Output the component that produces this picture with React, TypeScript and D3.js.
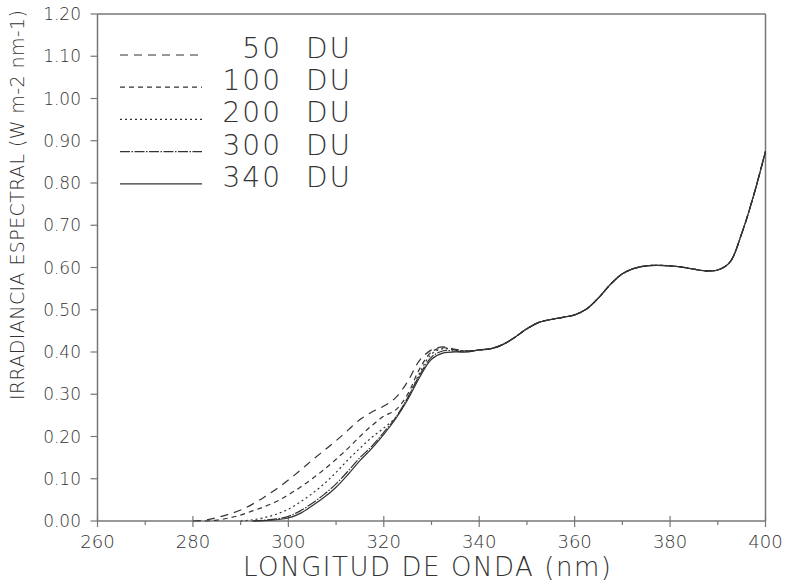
import React from "react";
import * as d3 from "d3";

// wavelength grid (nm) for the part where the ozone curves differ
const lowNm = [280, 282.5, 285, 287.5, 290, 292.5, 295, 297.5, 300, 302.5, 305, 307.5, 310, 312.5, 315, 317.5, 320, 322.5, 325, 327.5, 330, 332.5, 335, 337.5];
const du50 = [0, 0.002, 0.008, 0.016, 0.026, 0.04, 0.057, 0.076, 0.097, 0.12, 0.144, 0.167, 0.19, 0.215, 0.24, 0.258, 0.272, 0.292, 0.33, 0.38, 0.405, 0.412, 0.406, 0.403];
const du100 = [0, 0, 0.002, 0.007, 0.014, 0.024, 0.034, 0.046, 0.062, 0.08, 0.1, 0.122, 0.146, 0.172, 0.2, 0.226, 0.248, 0.263, 0.3, 0.36, 0.4, 0.41, 0.405, 0.402];
const du200 = [0, 0, 0, 0, 0, 0.003, 0.008, 0.016, 0.028, 0.045, 0.065, 0.088, 0.115, 0.145, 0.172, 0.198, 0.22, 0.245, 0.29, 0.35, 0.395, 0.408, 0.404, 0.402];
const du300 = [0, 0, 0, 0, 0, 0, 0.002, 0.005, 0.011, 0.024, 0.042, 0.063, 0.088, 0.118, 0.15, 0.177, 0.21, 0.245, 0.292, 0.345, 0.388, 0.403, 0.402, 0.401];
const du340 = [0, 0, 0, 0, 0, 0, 0.001, 0.003, 0.007, 0.018, 0.036, 0.056, 0.08, 0.11, 0.143, 0.172, 0.205, 0.242, 0.287, 0.34, 0.383, 0.398, 0.4, 0.4];

// shared part of the spectrum (all curves coincide)
const highNm = [340, 342.5, 345, 347.5, 350, 352.5, 355, 357.5, 360, 362.5, 365, 367.5, 370, 372.5, 375, 377.5, 380, 382.5, 385, 387.5, 390, 392.5, 395, 397.5, 400];
const tail = [0.405, 0.408, 0.418, 0.435, 0.455, 0.47, 0.477, 0.482, 0.488, 0.502, 0.528, 0.56, 0.585, 0.598, 0.604, 0.605, 0.604, 0.601, 0.596, 0.592, 0.594, 0.612, 0.68, 0.77, 0.875];

const seriesNames = ["50", "100", "200", "300", "340"];
const seriesLow = [du50, du100, du200, du300, du340];
const dashes = ["8,6", "5,4", "2,3", "10,1.5,1.5,1.5", null];

const xTicks = [260, 280, 300, 320, 340, 360, 380, 400];
const xMinor = [270, 290, 310, 330, 350, 370, 390];
const yTicks = [0, 0.1, 0.2, 0.3, 0.4, 0.5, 0.6, 0.7, 0.8, 0.9, 1.0, 1.1, 1.2];

const W = 789;
const H = 584;
const font = "'DejaVu Sans', Roboto, sans-serif";
const ink = "#333";
const frame = "#777";

export default function App() {
  const x = d3.scaleLinear().domain([260, 400]).range([97.5, 765.5]);
  const y = d3.scaleLinear().domain([0, 1.2]).range([521, 14]);
  const line = d3
    .line<[number, number]>()
    .x((d) => x(d[0]))
    .y((d) => y(d[1]))
    .curve(d3.curveCatmullRom.alpha(0.5));

  const paths = seriesLow.map((vals) => {
    let pts: [number, number][] = lowNm.map((n, i) => [n, vals[i]]);
    // drop leading zeros except the last one
    let first = 0;
    while (first < vals.length - 1 && vals[first + 1] === 0) first++;
    pts = pts.slice(first);
    return pts.concat(highNm.map((n, i) => [n, tail[i]] as [number, number]));
  });

  const fmt = d3.format(".2f");
  const x0 = x(260);
  const x1 = x(400);
  const yb = y(0);
  const yt = y(1.2);

  return (
    <svg width={W} height={H} style={{ position: "absolute", left: 0, top: 0, background: "#fff" }}>
      {/* frame */}
      <g stroke={frame} strokeWidth={1.5} fill="none">
        <line x1={x0} x2={x1} y1={yb} y2={yb} />
        <line x1={x0} x2={x0} y1={yb} y2={yt} />
        <line x1={x0} x2={x1} y1={yt} y2={yt} />
        <line x1={x1} x2={x1} y1={yb} y2={yt} />
      </g>
      {/* ticks */}
      <g stroke={frame} strokeWidth={1.2}>
        {xTicks.map((t) => (
          <line key={t} x1={x(t)} x2={x(t)} y1={yb - 5} y2={yb + 6} />
        ))}
        {xMinor.map((t) => (
          <line key={t} x1={x(t)} x2={x(t)} y1={yb} y2={yb + 4} />
        ))}
        {yTicks.map((t) => (
          <line key={t} x1={x0 - 7} x2={x0} y1={y(t)} y2={y(t)} />
        ))}
      </g>
      <g fontFamily={font} fontWeight={200} fontSize={18} fill={ink}>
        {xTicks.map((t) => (
          <text key={t} x={x(t)} y={548} textAnchor="middle">
            {t}
          </text>
        ))}
      </g>
      <g fontFamily={font} fontWeight={200} fontSize={17} fill={ink}>
        {yTicks.map((t) => (
          <text key={t} x={81} y={y(t) + 6} textAnchor="end">
            {fmt(t)}
          </text>
        ))}
      </g>
      {/* axis titles */}
      <text
        x={427}
        y={576}
        textAnchor="middle"
        fontFamily={font}
        fontWeight={200}
        fontSize={26}
        fill={ink}
        textLength={368}
        lengthAdjust="spacing"
      >
        LONGITUD DE ONDA (nm)
      </text>
      <text
        transform="translate(24,205) rotate(-90)"
        textAnchor="middle"
        fontFamily={font}
        fontWeight={200}
        fontSize={19}
        fill={ink}
        textLength={390}
        lengthAdjust="spacing"
      >
        IRRADIANCIA ESPECTRAL (W m-2 nm-1)
      </text>
      {/* curves */}
      <g fill="none" stroke={ink} strokeWidth={1.2}>
        {paths.map((p, i) => (
          <path key={i} d={line(p) || ""} strokeDasharray={dashes[i] || undefined} />
        ))}
      </g>
      {/* legend */}
      <g fontFamily={font} fontWeight={200} fontSize={28} fill={ink}>
        {seriesNames.map((s, i) => {
          const ly = 55 + i * 32.2;
          return (
            <g key={s}>
              <line
                x1={120}
                x2={202}
                y1={ly}
                y2={ly}
                stroke={ink}
                strokeWidth={1.2}
                strokeDasharray={dashes[i] || undefined}
              />
              <text x={282} y={ly + 3} textAnchor="end" letterSpacing={2}>
                {s}
              </text>
              <text x={306} y={ly + 3} letterSpacing={2}>
                DU
              </text>
            </g>
          );
        })}
      </g>
    </svg>
  );
}
